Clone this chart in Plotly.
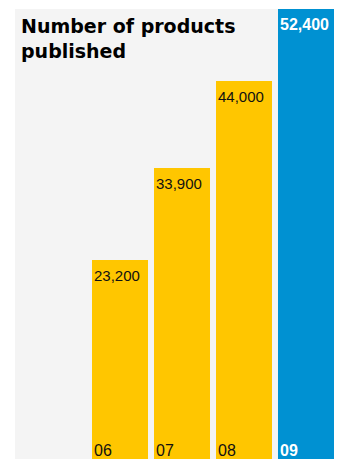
import plotly.graph_objects as go

years = ["06", "07", "08", "09"]
products = [23200, 33900, 44000, 52400]
value_labels = ["23,200", "33,900", "44,000", "52,400"]
title_text = "Number of products<br>published"

YELLOW = "#FFC600"
BLUE = "#0091D2"
BAR_W = 56 / 62

xs = list(range(len(years)))
colors = [YELLOW] * (len(years) - 1) + [BLUE]
text_colors = ["#111111"] * (len(years) - 1) + ["#FFFFFF"]
weights = ["normal"] * (len(years) - 1) + ["bold"]
value_sizes = [15] * (len(years) - 1) + [16]

fig = go.Figure(go.Bar(
    x=xs, y=products, width=BAR_W, marker=dict(color=colors, line=dict(width=0)),
    hoverinfo="skip",
))

annotations = []
for i, (v, lab, yr) in enumerate(zip(products, value_labels, years)):
    fam = "Liberation Sans"
    annotations.append(dict(
        x=i - BAR_W / 2, y=v, xref="x", yref="y", text=lab, showarrow=False,
        xanchor="left", yanchor="top", xshift=0, yshift=-5,
        font=dict(family=fam, size=value_sizes[i], color=text_colors[i], weight=weights[i]),
    ))
    annotations.append(dict(
        x=i - BAR_W / 2, y=0, xref="x", yref="y", text=yr, showarrow=False,
        xanchor="left", yanchor="bottom", xshift=0, yshift=-2,
        font=dict(family=fam, size=16, color=text_colors[i], weight="bold" if i == len(years) - 1 else "normal"),
    ))

annotations.append(dict(
    x=0, y=1, xref="paper", yref="paper", text=title_text, showarrow=False,
    xanchor="left", yanchor="top", align="left", xshift=4, yshift=-4,
    font=dict(family="DejaVu Sans", size=19, color="#000000", weight="bold"),
))

fig.update_layout(
    width=345, height=459,
    margin=dict(l=15, r=11, t=9, b=0, pad=0),
    paper_bgcolor="#FFFFFF", plot_bgcolor="#F4F4F4",
    showlegend=False, bargap=0,
    xaxis=dict(range=[-1.694, 3 + BAR_W / 2], visible=False, fixedrange=True),
    yaxis=dict(range=[0, 52400], visible=False, fixedrange=True),
    annotations=annotations,
)

fig.write_html("out.html", config={"displayModeBar": False})
